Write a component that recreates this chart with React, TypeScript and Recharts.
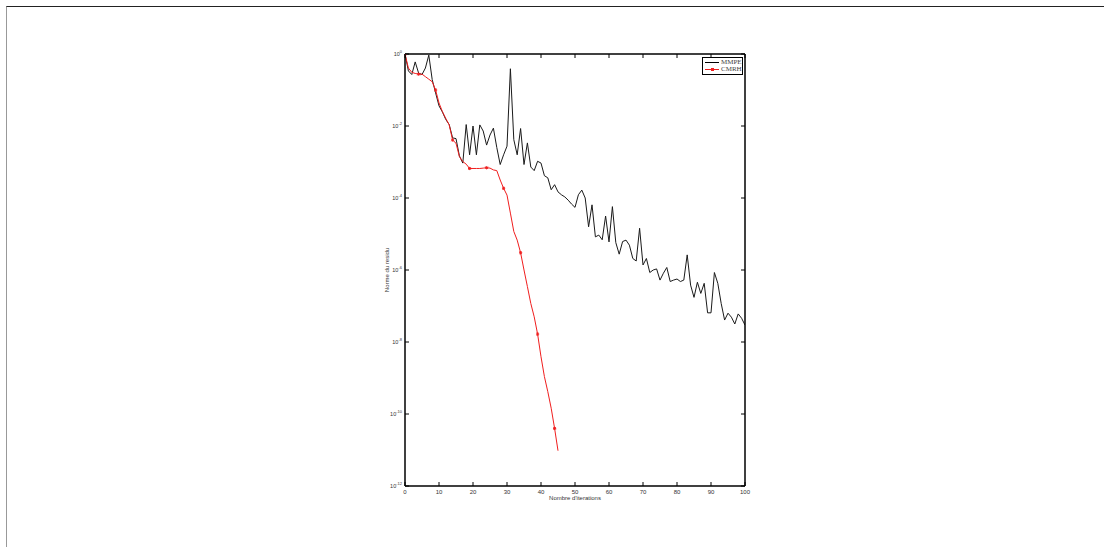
import { LineChart, Line, XAxis, YAxis } from "recharts";

// exponents (log10 of the residual norm)
const mmpeExp = [
  0, -0.47, -0.57, -0.22, -0.53, -0.57, -0.39, -0.03, -0.71, -1.08,
  -1.44, -1.61, -1.82, -1.96, -2.33, -2.35, -2.83, -3.03, -1.96, -2.8,
  -2.0, -2.8, -1.97, -2.14, -2.53, -2.25, -2.06, -2.6, -3.07, -2.8,
  -2.56, -0.41, -2.38, -2.8, -2.07, -3.07, -2.47, -3.14, -3.24, -2.98,
  -3.03, -3.38, -3.44, -3.77, -3.63, -3.83, -3.91, -3.97, -4.06, -4.17,
  -4.26, -3.91, -3.78, -4.0, -4.8, -4.19, -5.08, -5.03, -5.16, -4.5,
  -5.22, -4.24, -5.24, -5.56, -5.21, -5.17, -5.31, -5.68, -5.75, -4.84,
  -5.86, -5.68, -6.07, -6.0, -5.97, -6.28, -6.09, -5.93, -6.32, -6.28,
  -6.25, -6.32, -6.28, -5.58, -6.42, -6.76, -6.34, -6.65, -6.37, -7.19,
  -7.19, -6.07, -6.37, -6.93, -7.39, -7.2, -7.31, -7.5, -7.22, -7.34,
  -7.53,
];

const cmrhExp = [
  0, -0.39, -0.51, -0.54, -0.56, -0.56, -0.63, -0.7, -0.77, -1.0,
  -1.36, -1.6, -1.79, -1.97, -2.39, -2.48, -2.85, -2.99, -3.06, -3.18,
  -3.18, -3.18, -3.18, -3.17, -3.16, -3.17, -3.22, -3.24, -3.5, -3.73,
  -3.92, -4.42, -4.93, -5.17, -5.52, -6.0, -6.46, -6.93, -7.3, -7.78,
  -8.41, -8.96, -9.38, -9.84, -10.4, -11.02,
];

// iterations where the CMRH curve carries a marker
const cmrhMarkers = [0, 4, 9, 14, 19, 24, 29, 34, 39, 44];

const xTicks = [0, 10, 20, 30, 40, 50, 60, 70, 80, 90, 100];
const yTickExps = [0, -2, -4, -6, -8, -10, -12];

const data = mmpeExp.map((e, i) => ({
  iter: i,
  mmpe: Math.pow(10, e),
  cmrh: i < cmrhExp.length ? Math.pow(10, cmrhExp[i]) : undefined,
}));

const yTicks = yTickExps.map((e) => Math.pow(10, e));

const RED = "#f01e1e";
const TICK_FONT = "'Liberation Sans', Arial, sans-serif";

function BottomTick(props: any) {
  const { x, y, payload } = props;
  return (
    <g>
      <line x1={x} y1={y} x2={x} y2={y - 4} stroke="#000" strokeWidth={1} />
      <text x={x} y={y + 8} textAnchor="middle" fontSize={6} fill="#333" fontFamily={TICK_FONT}>
        {payload.value}
      </text>
    </g>
  );
}

function TopTick(props: any) {
  const { x, y } = props;
  return <line x1={x} y1={y} x2={x} y2={y + 4} stroke="#000" strokeWidth={1} />;
}

function LeftTick(props: any) {
  const { x, y, payload } = props;
  const exp = Math.round(Math.log10(payload.value));
  return (
    <g>
      <line x1={x} y1={y} x2={x + 4} y2={y} stroke="#000" strokeWidth={1} />
      <text x={x - 3} y={y + 2} textAnchor="end" fontSize={5.5} fill="#333" fontFamily={TICK_FONT}>
        10
        <tspan dy={-3} fontSize={4}>
          {exp}
        </tspan>
      </text>
    </g>
  );
}

function RightTick(props: any) {
  const { x, y } = props;
  return <line x1={x} y1={y} x2={x - 4} y2={y} stroke="#000" strokeWidth={1} />;
}

function CmrhDot(props: any) {
  const { cx, cy, index } = props;
  if (!cmrhMarkers.includes(index) || cx == null || cy == null) return <g key={index} />;
  return (
    <g key={index} stroke={RED} strokeWidth={1}>
      <line x1={cx - 1.6} y1={cy} x2={cx + 1.6} y2={cy} />
      <line x1={cx} y1={cy - 1.6} x2={cx} y2={cy + 1.6} />
      <line x1={cx - 1.2} y1={cy - 1.2} x2={cx + 1.2} y2={cy + 1.2} />
      <line x1={cx - 1.2} y1={cy + 1.2} x2={cx + 1.2} y2={cy - 1.2} />
    </g>
  );
}

function LegendBox() {
  const row = { display: "flex", alignItems: "center", height: 7 } as const;
  const txt = { fontFamily: "'Liberation Serif', 'Times New Roman', serif", fontSize: 7, color: "#444", marginLeft: 2, lineHeight: "7px" };
  return (
    <div
      style={{
        position: "absolute",
        left: 702,
        top: 57,
        border: "1.5px solid #000",
        background: "#fff",
        width: 37,
        padding: "1px 0 1px 2px",
      }}
    >
      <div style={row}>
        <div style={{ width: 14, height: 1, background: "#000" }} />
        <span style={txt}>MMPE</span>
      </div>
      <div style={row}>
        <div style={{ width: 14, height: 1, background: RED, position: "relative" }}>
          <div style={{ position: "absolute", left: 6, top: -1, width: 3, height: 3, background: RED }} />
        </div>
        <span style={txt}>CMRH</span>
      </div>
    </div>
  );
}

export default function App() {
  return (
    <div style={{ position: "absolute", left: 0, top: 0, width: 1104, height: 547, background: "#fff", overflow: "hidden" }}>
      {/* page frame */}
      <div
        style={{
          position: "absolute",
          left: 6,
          top: 6,
          right: 0,
          bottom: 0,
          borderTop: "1px solid #222",
          borderLeft: "1.5px solid #999",
        }}
      />
      <LineChart
        width={1104}
        height={547}
        data={data}
        margin={{ top: 49, left: 375, right: 354, bottom: 41 }}
        style={{ position: "absolute", left: 0, top: 0 }}
      >
        <XAxis
          dataKey="iter"
          type="number"
          domain={[0, 100]}
          ticks={xTicks}
          height={20}
          tickSize={0}
          tickMargin={0}
          tickLine={false}
          tick={<BottomTick />}
          axisLine={{ stroke: "#000", strokeWidth: 1.5 }}
          allowDataOverflow
        />
        <XAxis
          xAxisId="top"
          orientation="top"
          dataKey="iter"
          type="number"
          domain={[0, 100]}
          ticks={xTicks}
          height={5}
          tickSize={0}
          tickMargin={0}
          tickLine={false}
          tick={<TopTick />}
          axisLine={{ stroke: "#000", strokeWidth: 1.5 }}
          allowDataOverflow
        />
        <YAxis
          type="number"
          scale="log"
          domain={[1e-12, 1]}
          ticks={yTicks}
          width={30}
          tickSize={0}
          tickMargin={0}
          tickLine={false}
          tick={<LeftTick />}
          axisLine={{ stroke: "#000", strokeWidth: 1.5 }}
          allowDataOverflow
        />
        <YAxis
          yAxisId="right"
          orientation="right"
          type="number"
          scale="log"
          domain={[1e-12, 1]}
          ticks={yTicks}
          width={5}
          tickSize={0}
          tickMargin={0}
          tickLine={false}
          tick={<RightTick />}
          axisLine={{ stroke: "#000", strokeWidth: 1.5 }}
          allowDataOverflow
        />
        <Line
          dataKey="mmpe"
          stroke="#1a1a1a"
          strokeWidth={1}
          dot={false}
          isAnimationActive={false}
        />
        <Line
          dataKey="cmrh"
          stroke={RED}
          strokeWidth={1}
          dot={<CmrhDot />}
          activeDot={false}
          connectNulls={false}
          isAnimationActive={false}
        />
      </LineChart>
      <LegendBox />
      <div
        style={{
          position: "absolute",
          left: 575,
          top: 498,
          transform: "translate(-50%, -50%)",
          fontFamily: TICK_FONT,
          fontSize: 6,
          color: "#333",
          whiteSpace: "nowrap",
        }}
      >
        Nombre d'iterations
      </div>
      <div
        style={{
          position: "absolute",
          left: 387,
          top: 270,
          transform: "translate(-50%, -50%) rotate(-90deg)",
          fontFamily: TICK_FONT,
          fontSize: 6,
          color: "#333",
          whiteSpace: "nowrap",
        }}
      >
        Norme du residu
      </div>
    </div>
  );
}
